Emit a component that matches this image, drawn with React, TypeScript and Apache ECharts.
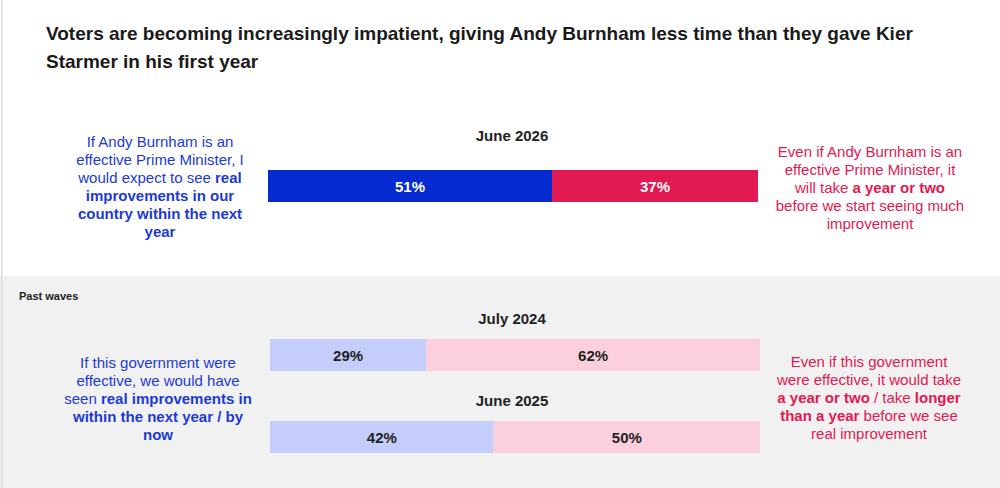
import React, { useEffect, useRef } from "react";
import * as echarts from "echarts";

// Survey waves and shares (%)
const waves = ["June 2026", "July 2024", "June 2025"];
const soonValues = [51, 29, 42];
const laterValues = [37, 62, 50];

const soonColors = ["#052bd0", "#c5cefa", "#c5cefa"];
const laterColors = ["#e31951", "#fbcfdc", "#fbcfdc"];
const labelColors = ["#ffffff", "#222222", "#222222"];

const titleText =
  "Voters are becoming increasingly impatient, giving Andy Burnham less time than they gave Kier\nStarmer in his first year";

const FONT = "'Liberation Sans', Arial, Helvetica, sans-serif";

export default function App() {
  const ref = useRef<HTMLDivElement>(null);

  useEffect(() => {
    if (!ref.current) return;
    const chart = echarts.init(ref.current, undefined, { renderer: "svg" });

    // bar geometry for each wave: [left, top]
    const barPos = [
      [268, 170],
      [270, 339],
      [270, 421],
    ];
    const barW = 490;
    const barH = 32;

    const grids = barPos.map(([l, t]) => ({
      left: l,
      top: t,
      width: barW,
      height: barH,
      containLabel: false,
    }));
    // each bar is scaled to the sum of its two answers
    const xAxes = waves.map((_, i) => ({
      type: "value" as const,
      gridIndex: i,
      min: 0,
      max: soonValues[i] + laterValues[i],
      show: false,
    }));
    const yAxes = waves.map((w, i) => ({
      type: "category" as const,
      gridIndex: i,
      data: [w],
      show: false,
    }));

    const series: any[] = [];
    waves.forEach((_, i) => {
      const lbl = {
        show: true,
        position: "inside",
        formatter: "{c}%",
        color: labelColors[i],
        fontFamily: FONT,
        fontWeight: "bold",
        fontSize: 15,
      };
      series.push({
        type: "bar",
        xAxisIndex: i,
        yAxisIndex: i,
        stack: "s" + i,
        barWidth: barH,
        data: [soonValues[i]],
        itemStyle: { color: soonColors[i] },
        label: lbl,
      });
      series.push({
        type: "bar",
        xAxisIndex: i,
        yAxisIndex: i,
        stack: "s" + i,
        barWidth: barH,
        data: [laterValues[i]],
        itemStyle: { color: laterColors[i] },
        label: lbl,
      });
    });

    const blue = "#1c3ad6";
    const red = "#e31951";
    const sideRich = (color: string) => ({
      n: { fontFamily: FONT, fontSize: 15, color, lineHeight: 18 },
      b: { fontFamily: FONT, fontSize: 15, color, fontWeight: "bold", lineHeight: 18 },
    });

    const sideText = (x: number, y: number, text: string, color: string) => ({
      type: "text",
      x,
      y,
      style: {
        text,
        align: "center",
        verticalAlign: "top",
        rich: sideRich(color),
        fill: color,
        font: `15px ${FONT}`,
        lineHeight: 18,
      },
    });

    const waveTitle = (y: number, text: string) => ({
      type: "text",
      x: 512,
      y,
      style: {
        text,
        align: "center",
        verticalAlign: "middle",
        fill: "#222222",
        font: `bold 15px ${FONT}`,
      },
    });

    chart.setOption({
      animation: false,
      backgroundColor: "#ffffff",
      grid: grids,
      xAxis: xAxes,
      yAxis: yAxes,
      series,
      graphic: [
        { type: "rect", z: -10, shape: { x: 0, y: 276, width: 1000, height: 212 }, style: { fill: "#f1f1f1" } },
        { type: "rect", z: -5, shape: { x: 1, y: 0, width: 1.5, height: 488 }, style: { fill: "#dcdcdc" } },
        {
          type: "text",
          x: 46,
          y: 19,
          style: {
            text: titleText,
            fill: "#1a1a1a",
            font: `bold 19px ${FONT}`,
            lineHeight: 28,
          },
        },
        waveTitle(135, waves[0]),
        waveTitle(318, waves[1]),
        waveTitle(400, waves[2]),
        {
          type: "text",
          x: 19,
          y: 296,
          style: { text: "Past waves", fill: "#222222", font: `bold 11px ${FONT}`, verticalAlign: "middle" },
        },
        sideText(
          160,
          132,
          "{n|If Andy Burnham is an}\n{n|effective Prime Minister, I}\n{n|would expect to see }{b|real}\n{b|improvements in our}\n{b|country within the next}\n{b|year}",
          blue
        ),
        sideText(
          870,
          142,
          "{n|Even if Andy Burnham is an}\n{n|effective Prime Minister, it}\n{n|will take }{b|a year or two}\n{n|before we start seeing much}\n{n|improvement}",
          red
        ),
        sideText(
          158,
          353,
          "{n|If this government were}\n{n|effective, we would have}\n{n|seen }{b|real improvements in}\n{b|within the next year / by}\n{b|now}",
          blue
        ),
        sideText(
          869,
          352,
          "{n|Even if this government}\n{n|were effective, it would take}\n{b|a year or two}{n| / take }{b|longer}\n{b|than a year}{n| before we see}\n{n|real improvement}",
          red
        ),
      ],
    });

    return () => chart.dispose();
  }, []);

  return (
    <div
      ref={ref}
      style={{ position: "fixed", left: 0, top: 0, width: 1000, height: 488 }}
    />
  );
}
